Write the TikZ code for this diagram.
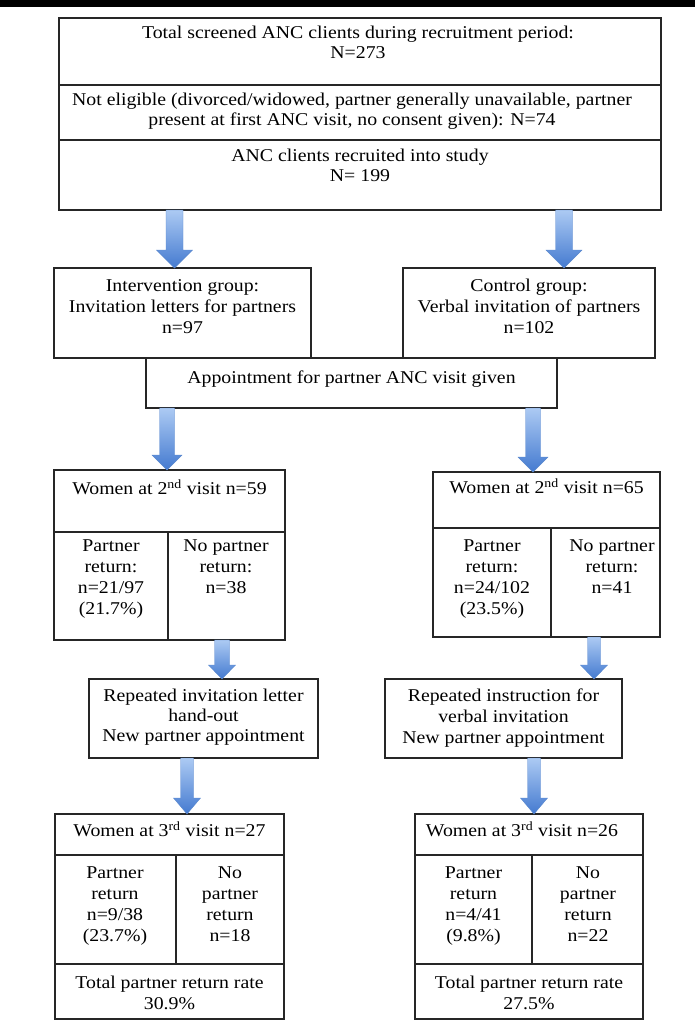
\documentclass[tikz,border=0pt]{standalone}
\usepackage{fontspec}
\setmainfont{Liberation Serif}[FakeStretch=1.1]
\usetikzlibrary{calc}
\definecolor{arrLight}{RGB}{172,202,243}
\definecolor{arrDark}{RGB}{68,122,208}
\definecolor{arrEdge}{RGB}{90,136,205}
\newcommand{\ml}[1]{\begin{tabular}{@{}c@{}}#1\end{tabular}}
% #1 name, #2 x1, #3 y1, #4 x2, #5 y2
\newcommand{\cellbox}[5]{\node[box, minimum width={(#4-#2)*1pt}, minimum height={(#5-#3)*1pt}] (#1) at (#2,#3) {};}
% #1 from, #2 to, #3 half shaft, #4 half head, #5 head length
\newcommand{\blarrow}[5]{%
  \path[arrowfill] let \p1=(#1), \p2=(#2) in
    (\x1-#3pt,\y1) -- (\x1+#3pt,\y1) -- (\x1+#3pt,\y2+#5pt) -- (\x1+#4pt,\y2+#5pt)
    -- (\x1,\y2) -- (\x1-#4pt,\y2+#5pt) -- (\x1-#3pt,\y2+#5pt) -- cycle;}
\tikzset{
  box/.style={draw=black!85, line width=1.4pt, rectangle, inner sep=0pt, outer sep=0pt, anchor=north west},
  txt/.style={inner sep=0pt, font=\fontsize{18}{21}\selectfont},
  txtb/.style={inner sep=0pt, font=\fontsize{18}{20}\selectfont},
  arrowfill/.style={top color=arrLight, bottom color=arrDark, draw=arrEdge, line width=0.4pt}
}
\begin{document}
\begin{tikzpicture}[x=1pt, y=-1pt]
\useasboundingbox (0,0) rectangle (695,1020);
\fill[black] (0,0) rectangle (695,7);

% top block
\cellbox{t1}{59}{18}{661}{85}
\cellbox{t2}{59}{85}{661}{140}
\cellbox{t3}{59}{140}{661}{210}
\node[txtb] (t1x) at (358,44) {\ml{Total screened ANC clients during recruitment period:\\N=273}};
\node[txtb] (t2x) at (352,111) {\ml{Not eligible (divorced/widowed, partner generally unavailable, partner\\present at first ANC visit, no consent given): N=74}};
\node[txtb] (t3x) at (360,167) {\ml{ANC clients recruited into study\\N= 199}};

% groups
\cellbox{int}{54}{268}{311}{358}
\cellbox{ctl}{403}{268}{655}{358}
\cellbox{app}{146}{358}{557}{408}
\node[txt] (intx) at (182.5,308) {\ml{Intervention group:\\Invitation letters for partners\\n=97}};
\node[txt] (ctlx) at (529,308) {\ml{Control group:\\Verbal invitation of partners\\n=102}};
\node[txt] (appx) at (351.5,379) {\ml{Appointment for partner ANC visit given}};

% second visit
\cellbox{w2lT}{54}{470}{285}{532}
\cellbox{w2lP}{54}{532}{168}{640}
\cellbox{w2lN}{168}{532}{285}{640}
\cellbox{w2rT}{433}{472}{660}{528}
\cellbox{w2rP}{433}{528}{551}{637}
\cellbox{w2rN}{551}{528}{660}{637}
\node[txt] (w2lTx) at (169.5,490) {\ml{Women at 2\textsuperscript{nd} visit n=59}};
\node[txt] (w2lPx) at (111,578.5) {\ml{Partner\\return:\\n=21/97\\(21.7\%)}};
\node[txt] (w2lNx) at (226,568) {\ml{No partner\\return:\\n=38}};
\node[txt] (w2rTx) at (546.5,489) {\ml{Women at 2\textsuperscript{nd} visit n=65}};
\node[txt] (w2rPx) at (492,578.5) {\ml{Partner\\return:\\n=24/102\\(23.5\%)}};
\node[txt] (w2rNx) at (612,568) {\ml{No partner\\return:\\n=41}};

% repeated
\cellbox{r1}{89}{679}{318}{758}
\cellbox{r2}{385}{679}{622}{758}
\node[txtb] (r1x) at (203.5,717.5) {\ml{Repeated invitation letter\\hand-out\\New partner appointment}};
\node[txt] (r2x) at (503.5,718) {\ml{Repeated instruction for\\verbal invitation\\New partner appointment}};

% third visit
\cellbox{w3lT}{55}{814}{284}{855}
\cellbox{w3lP}{55}{855}{176}{964}
\cellbox{w3lN}{176}{855}{284}{964}
\cellbox{w3lS}{55}{964}{284}{1019}
\cellbox{w3rT}{415}{814}{643}{855}
\cellbox{w3rP}{415}{855}{532}{964}
\cellbox{w3rN}{532}{855}{643}{964}
\cellbox{w3rS}{415}{964}{643}{1019}
\node[txt] (w3lTx) at (169.5,832) {\ml{Women at 3\textsuperscript{rd} visit n=27}};
\node[txt] (w3lPx) at (115,905.5) {\ml{Partner\\return\\n=9/38\\(23.7\%)}};
\node[txt] (w3lNx) at (230,905.5) {\ml{No\\partner\\return\\n=18}};
\node[txt] (w3lSx) at (169.5,994.5) {\ml{Total partner return rate\\30.9\%}};
\node[txt] (w3rTx) at (522,832) {\ml{Women at 3\textsuperscript{rd} visit n=26}};
\node[txt] (w3rPx) at (473.5,905.5) {\ml{Partner\\return\\n=4/41\\(9.8\%)}};
\node[txt] (w3rNx) at (588,905.5) {\ml{No\\partner\\return\\n=22}};
\node[txt] (w3rSx) at (529,994.5) {\ml{Total partner return rate\\27.5\%}};

% arrow columns
\coordinate (ax1) at (174.5,0);
\coordinate (ax2) at (564,0);
\coordinate (ax3) at (167,0);
\coordinate (ax4) at (533,0);
\coordinate (ax5) at (222,0);
\coordinate (ax6) at (594,0);
\coordinate (ax7) at (187,0);
\coordinate (ax8) at (534,0);

\blarrow{t3.south -| ax1}{int.north -| ax1}{8.5}{18}{18}
\blarrow{t3.south -| ax2}{ctl.north -| ax2}{8.5}{18}{18}
\blarrow{app.south -| ax3}{w2lT.north -| ax3}{7.5}{15}{15}
\blarrow{app.south -| ax4}{w2rT.north -| ax4}{7.5}{15}{15}
\blarrow{w2lN.south -| ax5}{r1.north -| ax5}{7.5}{13.5}{14}
\blarrow{w2rN.south -| ax6}{r2.north -| ax6}{6.5}{13.5}{14}
\blarrow{r1.south -| ax7}{w3lT.north -| ax7}{6.5}{13.5}{16}
\blarrow{r2.south -| ax8}{w3rT.north -| ax8}{6.5}{13.5}{16}
\end{tikzpicture}
\end{document}
